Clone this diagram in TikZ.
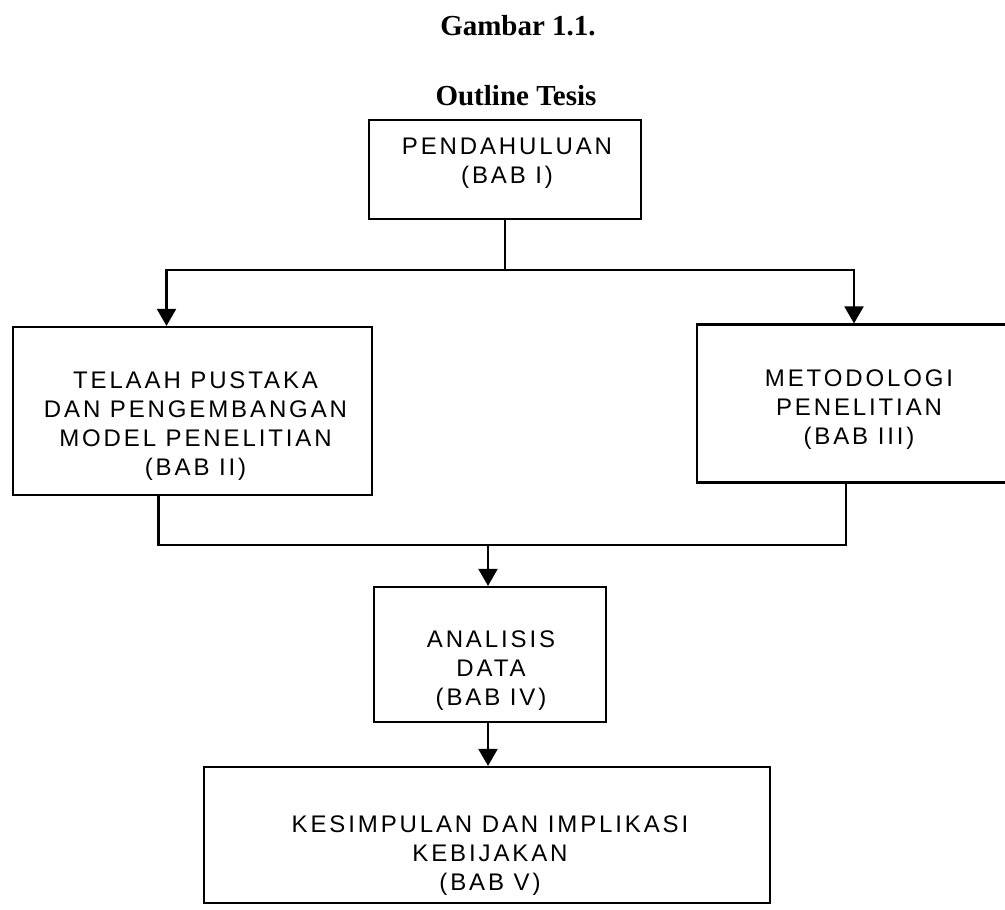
\documentclass[tikz,border=0pt]{standalone}
\usepackage{fontspec}
\setmainfont{Liberation Serif}
\newfontfamily\boxfont[LetterSpace=12]{Liberation Sans}
\usetikzlibrary{positioning, arrows.meta, calc}

\begin{document}
\begin{tikzpicture}[
        x=0.5pt, y=-0.5pt,
        line width=1.1pt,
        box/.style={draw, rectangle, inner sep=0pt},
        boxtext/.style={align=center, inner sep=0pt, font=\boxfont\fontsize{12}{14.5}\selectfont},
        heading/.style={font=\bfseries\fontsize{14.5}{17}\selectfont},
        arr/.style={-{Triangle[width=9.5pt, length=8.5pt]}}
    ]
        \useasboundingbox (0,0) rectangle (1005,909);

        % Headings
        \node[heading] (gambar) at (518, 26) {Gambar 1.1.};
        \node[heading] (judul) at (516, 96) {Outline Tesis};

        % Boxes
        \node[box, minimum width=136pt, minimum height=49.5pt] (pend) at (505, 169.5) {};
        \node[box, minimum width=179.5pt, minimum height=84pt] (telaah) at (192.5, 411) {};
        \node[box, minimum width=161pt, minimum height=79pt] (metod) at (858, 403.5) {};
        \node[box, minimum width=116pt, minimum height=67.5pt] (analisis) at (490, 654.5) {};
        \node[box, minimum width=283pt, minimum height=68pt] (kesimp) at (487, 835) {};

        % Texts
        \node[boxtext] (pendtxt) at (507, 163) {PENDAHULUAN\\(BAB I)};
        \node[boxtext] (telaahtxt) at (195.5, 426) {TELAAH PUSTAKA\\DAN PENGEMBANGAN\\MODEL PENELITIAN\\(BAB II)};
        \node[boxtext] (metodtxt) at (859, 410) {METODOLOGI\\PENELITIAN\\(BAB III)};
        \node[boxtext] (analisistxt) at (491, 671) {ANALISIS\\DATA\\(BAB IV)};
        \node[boxtext] (kesimptxt) at (490, 856) {KESIMPULAN DAN IMPLIKASI\\KEBIJAKAN\\(BAB V)};

        % Edges
        \coordinate (split) at (505, 270);
        \coordinate (join) at (488, 545);
        \draw (pend.south) -- (split);
        \draw[arr] (split) -| ($(telaah.north)+(-26,0)$);
        \draw[arr] (split) -| ($(metod.north)+(-4,0)$);
        \draw ($(telaah.south)+(-34,0)$) |- (join);
        \draw ($(metod.south)+(-12,0)$) |- (join);
        \draw[arr] (join) -- (join |- analisis.north);
        \draw[arr] (analisis.south -| join) -- (kesimp.north -| join);
    \end{tikzpicture}
\end{document}
